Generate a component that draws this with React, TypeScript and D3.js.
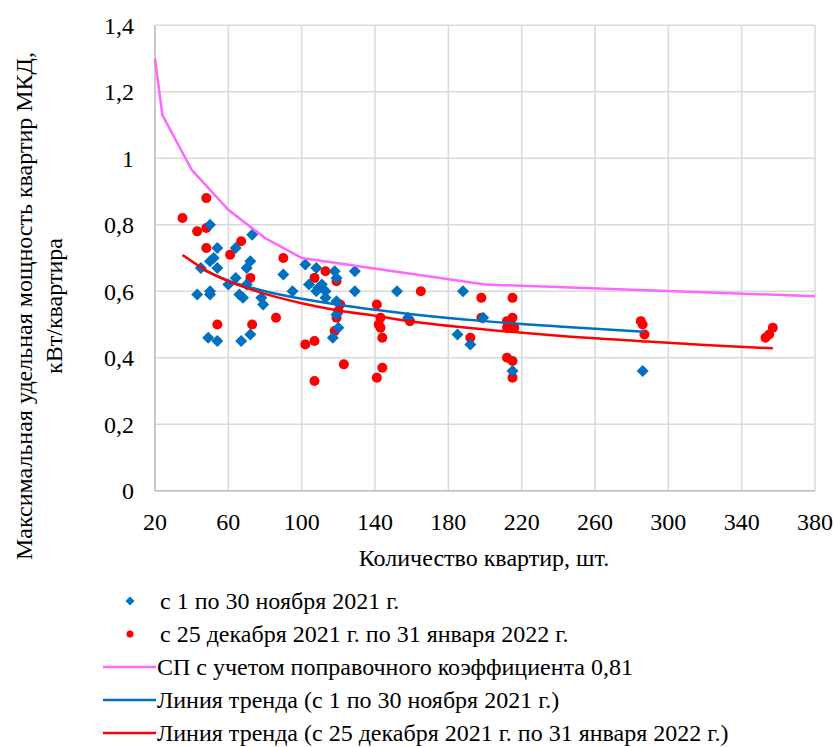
import * as d3 from "d3";
import React, { useEffect, useRef } from "react";

// Точки: с 1 по 30 ноября 2021 г.
const novX = [50, 73, 54, 64, 50, 52, 54, 45, 72, 70, 64, 60, 70, 66, 68, 43, 50, 50, 78, 79, 90, 95, 49, 54, 67, 72, 102, 108, 118, 129, 119, 104, 109, 111, 113, 108, 113, 119, 129, 152, 158, 119, 120, 117, 188, 185, 192, 199, 215, 286];
const novY = [0.8, 0.77, 0.73, 0.73, 0.69, 0.7, 0.67, 0.67, 0.69, 0.67, 0.64, 0.62, 0.62, 0.59, 0.58, 0.59, 0.59, 0.6, 0.58, 0.56, 0.65, 0.6, 0.46, 0.45, 0.45, 0.47, 0.68, 0.67, 0.66, 0.66, 0.64, 0.62, 0.61, 0.62, 0.6, 0.6, 0.58, 0.57, 0.6, 0.6, 0.52, 0.53, 0.49, 0.46, 0.6, 0.47, 0.44, 0.52, 0.36, 0.36];

// Точки: с 25 декабря 2021 г. по 31 января 2022 г.
const janX = [48, 35, 43, 48, 48, 67, 61, 90, 72, 86, 54, 73, 102, 107, 107, 107, 113, 119, 165, 121, 120, 119, 118, 141, 143, 142, 143, 144, 159, 123, 141, 144, 192, 198, 198, 215, 212, 215, 214, 216, 212, 212, 215, 215, 285, 286, 287, 357, 355, 353];
const janY = [0.88, 0.82, 0.78, 0.79, 0.73, 0.75, 0.71, 0.7, 0.64, 0.52, 0.5, 0.5, 0.44, 0.45, 0.33, 0.64, 0.66, 0.63, 0.6, 0.56, 0.54, 0.52, 0.48, 0.56, 0.52, 0.5, 0.49, 0.46, 0.51, 0.38, 0.34, 0.37, 0.46, 0.58, 0.52, 0.58, 0.51, 0.52, 0.5, 0.49, 0.49, 0.4, 0.39, 0.34, 0.51, 0.5, 0.47, 0.49, 0.47, 0.46];

// СП с учетом поправочного коэффициента 0,81
const spX = [20, 24, 40, 60, 80, 100, 200, 380];
const spY = [1.3, 1.13, 0.965, 0.845, 0.76, 0.7, 0.62, 0.585];

// линии тренда
const trendNovX = [44, 60, 80, 100, 120, 140, 160, 200, 240, 287];
const trendNovY = [0.67, 0.632, 0.6, 0.577, 0.559, 0.544, 0.531, 0.51, 0.494, 0.478];
const trendJanX = [35, 50, 60, 80, 100, 120, 140, 160, 200, 240, 287, 320, 357];
const trendJanY = [0.709, 0.656, 0.63, 0.592, 0.564, 0.542, 0.526, 0.509, 0.485, 0.466, 0.449, 0.438, 0.428];

const xTicks = [20, 60, 100, 140, 180, 220, 260, 300, 340, 380];
const yTicks = [0, 0.2, 0.4, 0.6, 0.8, 1, 1.2, 1.4];

const legendLabels = [
  "с 1 по 30 ноября 2021 г.",
  "с 25 декабря 2021 г. по 31 января 2022 г.",
  "СП с учетом поправочного коэффициента 0,81",
  "Линия тренда (с 1 по 30 ноября 2021 г.)",
  "Линия тренда (с 25 декабря 2021 г. по 31 января 2022 г.)",
];

const BLUE = "#0070C0";
const RED = "#FF0000";
const PINK = "#FF66FF";

export default function App() {
  const ref = useRef<SVGSVGElement>(null);
  const width = 835;
  const height = 747;
  const x = d3.scaleLinear().domain([20, 380]).range([155, 815]);
  const y = d3.scaleLinear().domain([0, 1.4]).range([490.7, 25.2]);

  // шрифт ставим после монтирования, с important
  useEffect(() => {
    if (!ref.current) return;
    d3.select(ref.current)
      .selectAll("text")
      .style("font-family", '"Liberation Serif", "Tinos", "Times New Roman"', "important")
      .style("font-size", "24px", "important");
  }, []);

  const line = d3
    .line<[number, number]>()
    .x((d) => x(d[0]))
    .y((d) => y(d[1]));
  const smooth = d3
    .line<[number, number]>()
    .x((d) => x(d[0]))
    .y((d) => y(d[1]))
    .curve(d3.curveMonotoneX);

  const zip = (xs: number[], ys: number[]) =>
    xs.map((v, i) => [v, ys[i]] as [number, number]);

  const diamond = (cx: number, cy: number, r: number) =>
    `M${cx},${cy - r}L${cx + r},${cy}L${cx},${cy + r}L${cx - r},${cy}Z`;

  const fmt = (v: number) => String(v).replace(".", ",");
  const legendY = [601, 634, 667, 700, 733];

  return (
    <svg ref={ref} width={width} height={height} style={{ position: "absolute", left: 0, top: 0 }}>
      {/* сетка */}
      <g stroke="#d9d9d9" strokeWidth={1.5}>
        {xTicks.map((t) => (
          <line key={"gx" + t} x1={x(t)} x2={x(t)} y1={y(1.4)} y2={y(0)} />
        ))}
        {yTicks.map((t) => (
          <line key={"gy" + t} x1={x(20)} x2={x(380)} y1={y(t)} y2={y(t)} />
        ))}
      </g>
      <line x1={x(20)} x2={x(20)} y1={y(1.4)} y2={y(0)} stroke="#bfbfbf" strokeWidth={1.5} />
      <line x1={x(20)} x2={x(380)} y1={y(0)} y2={y(0)} stroke="#bfbfbf" strokeWidth={1.5} />

      {/* подписи осей */}
      {yTicks.map((t) => (
        <text key={"ty" + t} x={134} y={y(t) + 8.5} textAnchor="end" fontSize={24}>
          {fmt(t)}
        </text>
      ))}
      {xTicks.map((t) => (
        <text key={"tx" + t} x={x(t)} y={530} textAnchor="middle" fontSize={24}>
          {t}
        </text>
      ))}
      <text x={484} y={566} textAnchor="middle" fontSize={24}>
        Количество квартир, шт.
      </text>
      <g transform="translate(0,306) rotate(-90)">
        <text x={0} y={32} textAnchor="middle" fontSize={24}>
          Максимальная удельная мощность квартир МКД,
        </text>
        <text x={0} y={62} textAnchor="middle" fontSize={24}>
          кВт/квартира
        </text>
      </g>

      {/* точки */}
      <g fill={RED}>
        {zip(janX, janY).map((d, i) => (
          <circle key={"j" + i} cx={x(d[0])} cy={y(d[1])} r={5} />
        ))}
      </g>
      <g fill={BLUE}>
        {zip(novX, novY).map((d, i) => (
          <path key={"n" + i} d={diamond(x(d[0]), y(d[1]), 6)} />
        ))}
      </g>

      {/* линии */}
      <path d={line(zip(spX, spY)) ?? ""} fill="none" stroke={PINK} strokeWidth={2.5} />
      <path d={smooth(zip(trendNovX, trendNovY)) ?? ""} fill="none" stroke={BLUE} strokeWidth={2.5} />
      <path d={smooth(zip(trendJanX, trendJanY)) ?? ""} fill="none" stroke={RED} strokeWidth={2.5} />

      {/* легенда */}
      <path d={diamond(130, legendY[0], 4.5)} fill={BLUE} />
      <circle cx={130} cy={legendY[1]} r={3.5} fill={RED} />
      <line x1={103} x2={156} y1={legendY[2]} y2={legendY[2]} stroke={PINK} strokeWidth={2.5} />
      <line x1={103} x2={156} y1={legendY[3]} y2={legendY[3]} stroke={BLUE} strokeWidth={2.5} />
      <line x1={103} x2={156} y1={legendY[4]} y2={legendY[4]} stroke={RED} strokeWidth={2.5} />
      {legendLabels.map((l, i) => (
        <text key={"l" + i} x={i < 2 ? 160 : 157} y={legendY[i] + 8} fontSize={24}>
          {l}
        </text>
      ))}
    </svg>
  );
}
